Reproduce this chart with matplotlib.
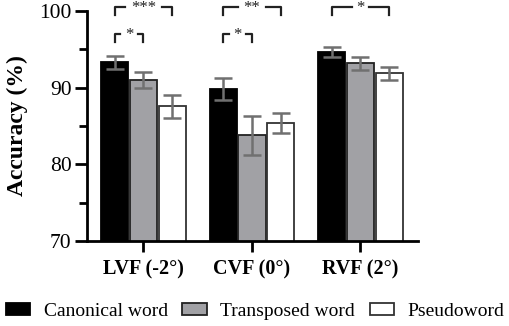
import matplotlib
matplotlib.use("Agg")
import matplotlib.pyplot as plt
import numpy as np
from matplotlib.ticker import MultipleLocator

plt.rcParams['font.family'] = ['Liberation Serif', 'DejaVu Serif']

groups = ['LVF (-2°)', 'CVF (0°)', 'RVF (2°)']
conditions = ['Canonical word', 'Transposed word', 'Pseudoword']
means = {
    'Canonical word': [93.3, 89.8, 94.7],
    'Transposed word': [91.0, 83.8, 93.2],
    'Pseudoword': [87.6, 85.4, 91.9],
}
errors = {
    'Canonical word': [0.85, 1.45, 0.65],
    'Transposed word': [1.0, 2.55, 0.85],
    'Pseudoword': [1.5, 1.3, 0.85],
}
face_colors = ['#000000', '#a1a1a5', '#ffffff']
edge_colors = ['#000000', '#222222', '#333333']

# significance: (group, cond_a, cond_b, y_top, label)
sig = [
    (0, 0, 2, 100.5, '***'),
    (0, 0, 1, 97.0, '*'),
    (1, 0, 2, 100.5, '**'),
    (1, 0, 1, 97.0, '*'),
    (2, 0, 2, 100.5, '*'),
]

fig = plt.figure(figsize=(5.1, 3.26), dpi=100)
ax = fig.add_axes([0.1706, 0.2607, 0.649, 0.7056])

x = np.arange(len(groups))
w = 0.265
for i, c in enumerate(conditions):
    pos = x + (i - 1) * w
    ax.bar(pos, means[c], width=w * 0.95, color=face_colors[i],
           edgecolor=edge_colors[i], linewidth=1.3, label=c, zorder=2)
    ax.errorbar(pos, means[c], yerr=errors[c], fmt='none', ecolor='#707070',
                elinewidth=1.8, capsize=6.5, capthick=1.8, zorder=3)

for g, a, b, y, lab in sig:
    x1 = x[g] + (a - 1) * w
    x2 = x[g] + (b - 1) * w
    d = 1.0
    xm = (x1 + x2) / 2
    gap = 0.045 * len(lab) + 0.035
    ax.plot([x1, x1, xm - gap], [y - d, y, y], color='#222222', lw=1.6,
            clip_on=False)
    ax.plot([xm + gap, x2, x2], [y, y, y - d], color='#222222', lw=1.6,
            clip_on=False)
    ax.text(xm, y - 0.15, lab, ha='center', va='center', fontsize=12,
            color='#222222', clip_on=False)

ax.set_ylim(70, 100)
ax.set_xlim(-0.52, 2.53)
ax.yaxis.set_major_locator(MultipleLocator(10))
ax.yaxis.set_minor_locator(MultipleLocator(5))
ax.set_xticks(x)
ax.set_xticklabels(groups, fontsize=14.5, fontweight='bold')
ax.tick_params(axis='y', labelsize=15.5, width=2, length=9, pad=2)
ax.tick_params(axis='y', which='minor', width=2, length=6)
ax.tick_params(axis='x', width=2, length=8, pad=5)
for s in ['top', 'right']:
    ax.spines[s].set_visible(False)
for s in ['left', 'bottom']:
    ax.spines[s].set_linewidth(2)
ax.set_ylabel('Accuracy (%)', fontsize=17, fontweight='bold', labelpad=8)

fig.legend(loc='lower center', bbox_to_anchor=(0.5, -0.035), ncol=3,
           frameon=False, prop={'family': 'Liberation Serif', 'size': 14},
           handlelength=1.25, handleheight=0.55,
           columnspacing=0.75, handletextpad=0.7)

fig.savefig('out.png', dpi=100)
